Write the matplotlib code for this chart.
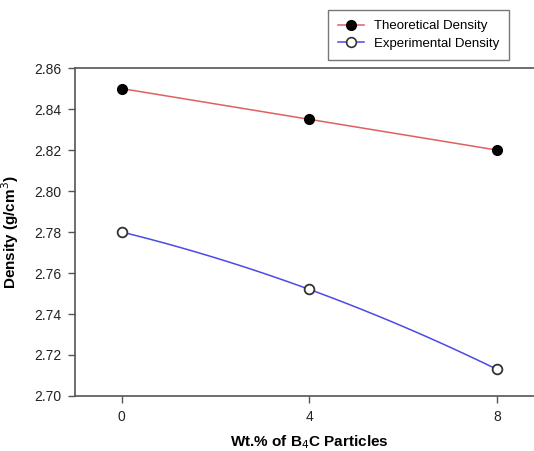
import numpy as np
import matplotlib.pyplot as plt

plt.rcParams['font.family'] = ['Liberation Sans', 'DejaVu Sans']

wt_pct = [0, 4, 8]
theoretical = [2.850, 2.835, 2.820]
experimental = [2.780, 2.752, 2.713]
y_ticks = [2.70, 2.72, 2.74, 2.76, 2.78, 2.80, 2.82, 2.84, 2.86]

fig = plt.figure(figsize=(5.34, 4.51), dpi=100)
ax = fig.add_axes([0.1404, 0.122, 0.878, 0.727])

# smooth curve through the three measured points
xs = np.linspace(wt_pct[0], wt_pct[-1], 100)
for ys, col in [(theoretical, '#e06060'), (experimental, '#4a4ae6')]:
    coef = np.polyfit(wt_pct, ys, 2)
    ax.plot(xs, np.polyval(coef, xs), color=col, lw=1.1, zorder=2)

ax.plot(wt_pct, theoretical, 'o', ms=7, mfc='black', mec='black', zorder=3)
ax.plot(wt_pct, experimental, 'o', ms=7, mfc='white', mec='#333333', mew=1.3, zorder=3)

# legend handles: line + marker
h1, = ax.plot([], [], '-o', color='#e06060', mfc='black', mec='black', ms=7, lw=1.1)
h2, = ax.plot([], [], '-o', color='#4a4ae6', mfc='white', mec='#333333', mew=1.2, ms=7, lw=1.1)
leg = fig.legend([h1, h2], ['Theoretical Density', 'Experimental Density'],
                 loc='upper left', bbox_to_anchor=(328 / 534, 1 - 10 / 451),
                 fontsize=9.5, frameon=True, fancybox=False, handlelength=2.0,
                 handletextpad=0.7, borderpad=0.75, labelspacing=0.4,
                 borderaxespad=0)
leg.get_frame().set_edgecolor('#555555')
leg.get_frame().set_linewidth(1.0)

ax.set_xlim(-1, 9)
ax.set_ylim(2.70, 2.86)
ax.set_xticks(wt_pct)
ax.set_yticks(y_ticks)
ax.set_yticklabels([f'{v:.2f}' for v in y_ticks])
ax.spines['right'].set_visible(False)
for s in ['left', 'bottom', 'top']:
    ax.spines[s].set_color('#555555')
    ax.spines[s].set_linewidth(1.2)
ax.tick_params(direction='out', length=5, width=1, color='#555555',
               labelsize=10, labelcolor='#222222', pad=5)

ax.set_xlabel('Wt.% of B$_4$C Particles', fontsize=11, fontweight='bold', labelpad=7)
ax.set_ylabel('Density (g/cm$^3$)', fontsize=11, fontweight='bold', labelpad=9)

fig.savefig('out.png', dpi=100)
